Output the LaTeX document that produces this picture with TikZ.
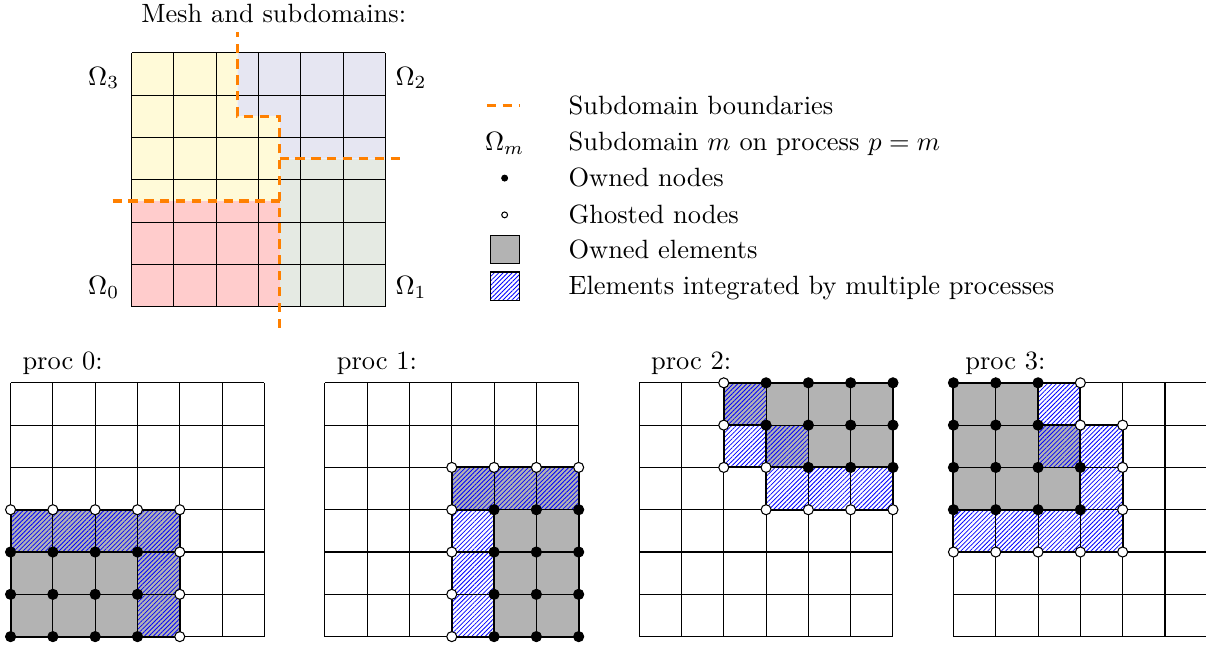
\documentclass[tikz,border=0pt]{standalone}
\usepackage{amsmath}
\usepackage{amssymb}
\usepackage{tikz}
\usetikzlibrary{patterns.meta}

\definecolor{domzero}{RGB}{255,204,204}
\definecolor{domone}{RGB}{229,234,227}
\definecolor{domtwo}{RGB}{230,230,242}
\definecolor{domthree}{RGB}{255,250,216}
\definecolor{ownedgray}{RGB}{179,179,179}

\tikzset{
  hatched/.style={pattern={Lines[angle=45,distance=1.2pt,line width=0.3pt]}, pattern color=blue},
  owned/.style={fill=ownedgray},
  bnd/.style={orange, very thick, dash pattern=on 3.5pt off 2.5pt},
  thin grid/.style={line width=0.4pt, step=1},
  outline/.style={line width=0.75pt},
  ghost/.style={fill=white, draw=black, line width=0.4pt},
  proclabel/.style={inner sep=0pt, anchor=base west},
  legtext/.style={inner sep=0pt, anchor=west, text height=1.75ex, text depth=0.25ex},
}

\begin{document}
\begin{tikzpicture}[x=16pt, y=16pt]
    \useasboundingbox (0,0) rectangle (28.51,15.27);

    % 1. Mesh with the four subdomains
    \node[anchor=base] (title) at (6.47,14.74) {Mesh and subdomains:};
    \begin{scope}[shift={(3.11,8.02)}]
        \fill[domzero]  (0,0) rectangle (3.5,2.5);
        \fill[domone]   (3.5,0) rectangle (6,3.5);
        \fill[domtwo]   (3.5,3.5) -- (6,3.5) -- (6,6) -- (2.5,6) -- (2.5,4.5) -- (3.5,4.5) -- cycle;
        \fill[domthree] (0,2.5) -- (3.5,2.5) -- (3.5,4.5) -- (2.5,4.5) -- (2.5,6) -- (0,6) -- cycle;
        \draw[thin grid] (0,0) grid (6,6);
        % subdomain boundaries
        \draw[bnd] (3.5,-0.5) -- (3.5,4.5) -- (2.5,4.5) -- (2.5,6.5);
        \draw[bnd] (-0.45,2.5) -- (3.5,2.5);
        \draw[bnd] (3.5,3.5) -- (6.4,3.5);
        % subdomain names
        \node[inner sep=0pt, anchor=base east] (om0) at (-0.28,0.28) {$\Omega_0$};
        \node[inner sep=0pt, anchor=base west] (om1) at (6.23,0.28) {$\Omega_1$};
        \node[inner sep=0pt, anchor=base west] (om2) at (6.23,5.24) {$\Omega_2$};
        \node[inner sep=0pt, anchor=base east] (om3) at (-0.28,5.24) {$\Omega_3$};
    \end{scope}

    % 2. Legend
    \draw[bnd] (11.51,12.77) -- (12.29,12.77);
    \node[legtext, anchor=center] (legomega) at (11.93,11.92) {$\Omega_m$};
    \filldraw[black] (11.93,11.06) circle (1.1pt);
    \draw[ghost] (11.93,10.19) circle (1.1pt);
    \filldraw[owned, draw=black, line width=0.4pt] (11.59,9.03) rectangle (12.27,9.71);
    \draw[hatched] (11.59,8.16) rectangle (12.27,8.84);
    \draw[line width=0.4pt] (11.59,8.16) rectangle (12.27,8.84);
    \node[legtext] (legbnd)   at (13.43,12.77) {Subdomain boundaries};
    \node[legtext] (legdom)   at (13.43,11.92) {Subdomain $m$ on process $p=m$};
    \node[legtext] (legown)   at (13.43,11.06) {Owned nodes};
    \node[legtext] (legghost) at (13.43,10.19) {Ghosted nodes};
    \node[legtext] (legelem)  at (13.43,9.36)  {Owned elements};
    \node[legtext] (legmulti) at (13.43,8.51)  {Elements integrated by multiple processes};

    % 3. proc 0
    \begin{scope}[shift={(0.25,0.22)}]
        \node[proclabel] (p0) at (0.27,6.32) {proc 0:};
        \fill[owned] (0,0) rectangle (4,3);
        \path[hatched] (0,2) rectangle (4,3) (3,0) rectangle (4,2);
        \draw[thin grid] (0,0) grid (6,6);
        \draw[outline] (0,0) rectangle (4,3);
        \foreach \i in {0,...,3} \foreach \j in {0,1,2}
            \filldraw[black] (\i,\j) circle (1.9pt);
        \foreach \p in {(0,3),(1,3),(2,3),(3,3),(4,3),(4,2),(4,1),(4,0)}
            \draw[ghost] \p circle (1.9pt);
    \end{scope}

    % 4. proc 1
    \begin{scope}[shift={(7.68,0.22)}]
        \node[proclabel] (p1) at (0.27,6.32) {proc 1:};
        \fill[owned] (4,0) rectangle (6,3) (3,3) rectangle (6,4);
        \path[hatched] (3,0) rectangle (4,3) (3,3) rectangle (6,4);
        \draw[thin grid] (0,0) grid (6,6);
        \draw[outline] (3,0) rectangle (6,4);
        \draw[outline] (4,0) -- (4,3) -- (3,3);
        \foreach \i in {4,5,6} \foreach \j in {0,...,3}
            \filldraw[black] (\i,\j) circle (1.9pt);
        \foreach \p in {(3,0),(3,1),(3,2),(3,3),(3,4),(4,4),(5,4),(6,4)}
            \draw[ghost] \p circle (1.9pt);
    \end{scope}

    % 5. proc 2
    \begin{scope}[shift={(15.11,0.22)}]
        \node[proclabel] (p2) at (0.27,6.32) {proc 2:};
        \fill[owned] (2,5) rectangle (6,6) (3,4) rectangle (6,5);
        \path[hatched] (2,5) rectangle (3,6) (2,4) rectangle (4,5) (3,3) rectangle (6,4);
        \draw[thin grid] (0,0) grid (6,6);
        \draw[outline] (2,6) -- (6,6) -- (6,3) -- (3,3) -- (3,4) -- (2,4) -- cycle;
        \draw[outline] (2,5) -- (3,5) -- (3,4) -- (6,4);
        \foreach \i in {3,...,6} \foreach \j in {5,6}
            \filldraw[black] (\i,\j) circle (1.9pt);
        \foreach \i in {4,5,6}
            \filldraw[black] (\i,4) circle (1.9pt);
        \foreach \p in {(2,6),(2,5),(2,4),(3,4),(3,3),(4,3),(5,3),(6,3)}
            \draw[ghost] \p circle (1.9pt);
    \end{scope}

    % 6. proc 3
    \begin{scope}[shift={(22.54,0.22)}]
        \node[proclabel] (p3) at (0.27,6.32) {proc 3:};
        \fill[owned] (0,3) rectangle (3,5) (0,5) rectangle (2,6);
        \path[hatched] (2,5) rectangle (3,6) (2,4) rectangle (4,5) (3,3) rectangle (4,4) (0,2) rectangle (4,3);
        \draw[thin grid] (0,0) grid (6,6);
        \draw[outline] (0,2) -- (4,2) -- (4,5) -- (3,5) -- (3,6) -- (0,6) -- cycle;
        \draw[outline] (0,3) -- (3,3) -- (3,5) -- (2,5) -- (2,6);
        \foreach \i in {0,1,2} \foreach \j in {5,6}
            \filldraw[black] (\i,\j) circle (1.9pt);
        \foreach \i in {0,...,3} \foreach \j in {3,4}
            \filldraw[black] (\i,\j) circle (1.9pt);
        \foreach \p in {(3,6),(3,5),(4,5),(4,4),(4,3),(0,2),(1,2),(2,2),(3,2),(4,2)}
            \draw[ghost] \p circle (1.9pt);
    \end{scope}
\end{tikzpicture}
\end{document}
